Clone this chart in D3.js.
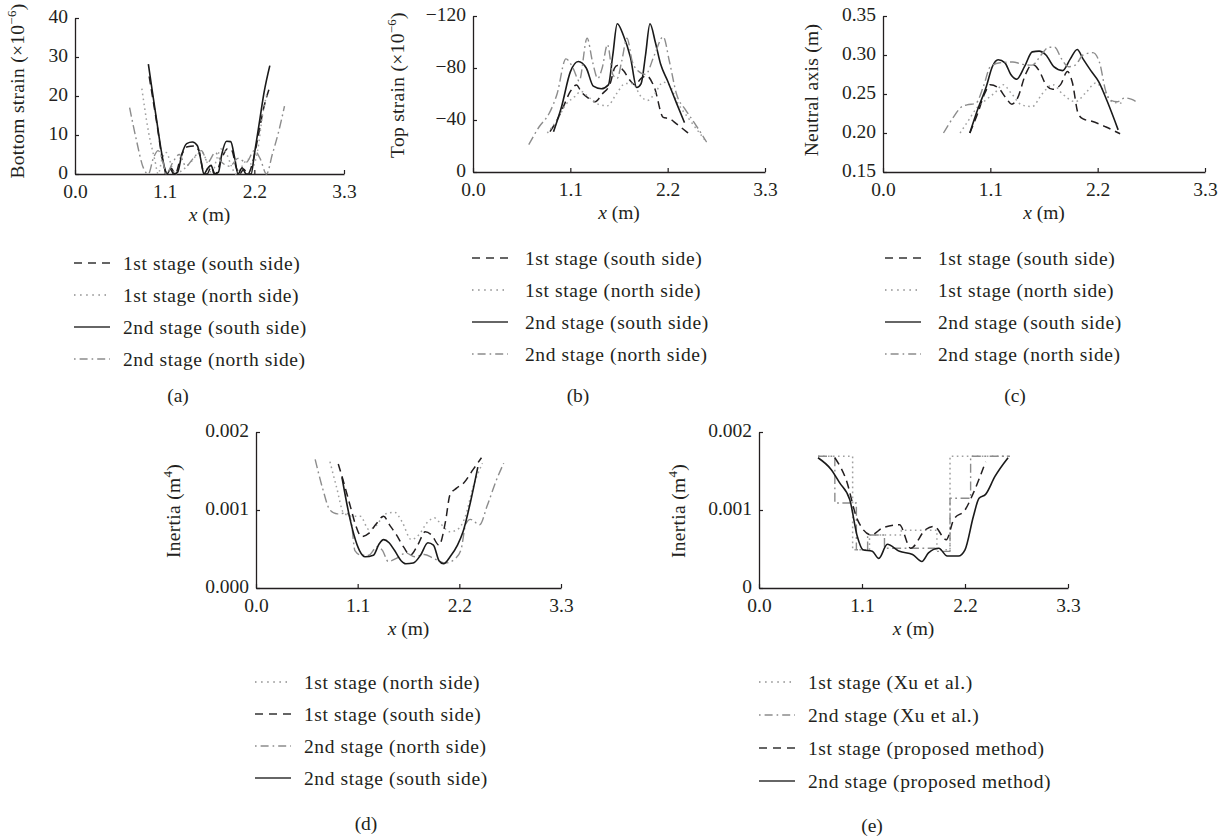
<!DOCTYPE html>
<html><head><meta charset="utf-8">
<script src="https://cdn.jsdelivr.net/npm/d3@7"></script>
<style>body{margin:0;background:#fff}</style>
</head><body>
<svg id="chart" width="1230" height="837"></svg>
<script>
// ---------------- DATA ----------------
const xTicks = [0, 1.1, 2.2, 3.3];

// (a) Bottom strain (x1e-6)
const aTicksY = [0, 10, 20, 30, 40];
const aSouth1 = [[0.91,25],[1.0,13.5],[1.08,3],[1.13,0],[1.18,1.5],[1.23,0],[1.3,4.5],[1.38,7],[1.46,7.2],[1.52,6],[1.57,1],[1.62,0],[1.67,1.8],[1.72,0],[1.8,4],[1.87,6.5],[1.92,6.2],[1.98,1.5],[2.02,0],[2.07,1.2],[2.12,0],[2.18,3],[2.25,10],[2.31,16.5],[2.38,21.7]];
const aNorth1 = [[0.82,21.9],[0.9,11],[0.98,3.5],[1.02,0],[1.07,4],[1.12,5.5],[1.17,3],[1.22,0],[1.32,1],[1.42,3],[1.5,5],[1.56,5.5],[1.62,3],[1.68,0],[1.74,4],[1.79,6.4],[1.85,5.5],[1.92,2],[1.97,0],[2.05,2],[2.12,3.8],[2.18,2],[2.24,6],[2.3,15],[2.36,21]];
const aSouth2 = [[0.90,28.2],[0.95,21],[1.0,14],[1.05,7],[1.1,1.5],[1.13,0],[1.17,1.3],[1.21,0],[1.26,0.5],[1.31,5],[1.37,7.8],[1.44,8.2],[1.5,7.3],[1.55,3],[1.58,0],[1.63,1.5],[1.67,2.2],[1.71,0],[1.76,0.5],[1.8,5],[1.86,8.4],[1.91,8.3],[1.96,4],[2.0,0],[2.05,1.6],[2.1,0],[2.16,0],[2.2,5],[2.26,13],[2.32,21],[2.39,27.8]];
const aNorth2 = [[0.67,17],[0.75,9],[0.84,1.5],[0.9,0],[0.96,4],[1.02,6],[1.08,3],[1.12,0],[1.2,3],[1.28,5],[1.36,2],[1.45,4],[1.55,6],[1.63,3],[1.72,5.5],[1.8,3],[1.9,2],[2.0,4],[2.1,3],[2.2,6],[2.27,4],[2.35,0],[2.42,5],[2.5,11],[2.57,17.4]];

// (b) Top strain (x1e-6)
const bTicksY = [0, -40, -80, -120];
const bSouth1 = [[0.87,-31],[0.95,-40],[1.02,-50],[1.1,-62],[1.17,-67],[1.22,-62],[1.3,-57],[1.38,-54],[1.46,-60],[1.55,-68],[1.6,-80],[1.63,-82],[1.7,-78],[1.78,-70],[1.83,-67],[1.9,-72],[1.96,-74],[2.05,-65],[2.15,-42],[2.22,-41],[2.3,-37],[2.43,-30]];
const bNorth1 = [[0.84,-30],[0.95,-40],[1.05,-52],[1.15,-58],[1.22,-62],[1.3,-58],[1.42,-52],[1.52,-51],[1.62,-60],[1.72,-68],[1.8,-68],[1.9,-58],[1.97,-55],[2.05,-60],[2.15,-69],[2.22,-67],[2.3,-55],[2.45,-40],[2.64,-23]];
const bSouth2 = [[0.91,-31],[1.0,-50],[1.1,-77],[1.19,-85],[1.28,-80],[1.36,-66],[1.45,-64],[1.53,-67],[1.58,-90],[1.63,-114],[1.7,-105],[1.78,-88],[1.85,-65],[1.9,-68],[1.95,-90],[2.0,-114],[2.06,-100],[2.12,-83],[2.2,-70],[2.3,-53],[2.39,-38]];
const bNorth2 = [[0.63,-21],[0.75,-35],[0.86,-45],[0.95,-60],[1.05,-87],[1.13,-80],[1.2,-70],[1.29,-103],[1.35,-85],[1.41,-72],[1.46,-80],[1.52,-98],[1.58,-75],[1.63,-72],[1.68,-85],[1.74,-103],[1.8,-85],[1.86,-78],[1.95,-75],[2.05,-90],[2.15,-104],[2.22,-85],[2.3,-60],[2.4,-48],[2.5,-38],[2.64,-23]];

// (c) Neutral axis (m)
const cTicksY = [0.15, 0.20, 0.25, 0.30, 0.35];
const cSouth1 = [[0.89,0.200],[0.97,0.225],[1.04,0.25],[1.1,0.262],[1.18,0.258],[1.26,0.245],[1.32,0.237],[1.38,0.245],[1.46,0.275],[1.53,0.288],[1.6,0.28],[1.67,0.262],[1.74,0.256],[1.82,0.262],[1.89,0.279],[1.94,0.265],[2.0,0.225],[2.05,0.218],[2.14,0.215],[2.28,0.208],[2.43,0.199]];
const cNorth1 = [[0.79,0.200],[0.87,0.215],[0.96,0.232],[1.06,0.243],[1.15,0.252],[1.23,0.262],[1.32,0.25],[1.42,0.236],[1.53,0.234],[1.63,0.25],[1.74,0.262],[1.84,0.25],[1.97,0.24],[2.08,0.252],[2.18,0.264],[2.26,0.255],[2.35,0.24],[2.47,0.238]];
const cSouth2 = [[0.89,0.200],[0.97,0.23],[1.06,0.26],[1.12,0.285],[1.18,0.294],[1.25,0.29],[1.31,0.275],[1.37,0.269],[1.45,0.285],[1.53,0.304],[1.6,0.305],[1.67,0.30],[1.75,0.285],[1.84,0.28],[1.92,0.295],[1.99,0.307],[2.05,0.295],[2.13,0.28],[2.21,0.266],[2.3,0.24],[2.41,0.204]];
const cNorth2 = [[0.62,0.200],[0.72,0.22],[0.8,0.233],[0.86,0.236],[0.95,0.238],[1.03,0.26],[1.1,0.285],[1.2,0.29],[1.33,0.291],[1.43,0.288],[1.53,0.287],[1.62,0.3],[1.7,0.31],[1.76,0.31],[1.83,0.295],[1.9,0.285],[1.97,0.287],[2.05,0.3],[2.15,0.303],[2.22,0.29],[2.28,0.255],[2.33,0.242],[2.4,0.24],[2.48,0.245],[2.55,0.243],[2.62,0.238]];

// (d) Inertia (m^4)
const dTicksY = [0, 0.001, 0.002];
const dNorth1 = [[0.8,0.00162],[0.87,0.0013],[0.95,0.00096],[1.05,0.00092],[1.13,0.00092],[1.22,0.00075],[1.3,0.0008],[1.4,0.00095],[1.5,0.00097],[1.58,0.00085],[1.68,0.00062],[1.76,0.00068],[1.86,0.00085],[1.93,0.0009],[2.0,0.00082],[2.1,0.00072],[2.18,0.00075],[2.26,0.0009],[2.35,0.0013],[2.45,0.0016]];
const dSouth1 = [[0.89,0.00159],[0.95,0.00135],[1.02,0.00105],[1.08,0.0008],[1.14,0.00066],[1.22,0.0007],[1.3,0.00082],[1.38,0.00092],[1.45,0.0008],[1.52,0.00068],[1.6,0.00052],[1.67,0.00042],[1.75,0.00055],[1.83,0.00072],[1.9,0.00068],[1.98,0.00055],[2.05,0.00085],[2.1,0.0012],[2.17,0.00128],[2.25,0.00135],[2.35,0.00152],[2.44,0.00167]];
const dNorth2 = [[0.64,0.00165],[0.72,0.00128],[0.8,0.001],[0.88,0.00095],[0.98,0.00096],[1.03,0.00085],[1.07,0.00048],[1.14,0.00042],[1.22,0.00042],[1.31,0.00053],[1.37,0.00048],[1.43,0.00034],[1.52,0.00038],[1.62,0.00045],[1.72,0.0004],[1.82,0.00043],[1.92,0.00038],[2.05,0.00032],[2.16,0.00038],[2.22,0.0005],[2.27,0.00082],[2.32,0.00088],[2.42,0.00081],[2.5,0.00105],[2.6,0.00138],[2.68,0.0016]];
const dSouth2 = [[0.93,0.00142],[1.0,0.00098],[1.06,0.00068],[1.12,0.00048],[1.18,0.00040],[1.27,0.00042],[1.33,0.00056],[1.38,0.00062],[1.44,0.00058],[1.5,0.00048],[1.57,0.00035],[1.62,0.00031],[1.7,0.00032],[1.78,0.00042],[1.86,0.00058],[1.92,0.00055],[1.98,0.00035],[2.03,0.00031],[2.1,0.0004],[2.18,0.00055],[2.24,0.00072],[2.32,0.0011],[2.4,0.00155]];

// (e) Inertia (m^4), Xu et al. step profiles vs proposed method
const eTicksY = [0, 0.001, 0.002];
const eXu1 = [[0.63,0.00169],[1.0,0.00049],[1.18,0.00068],[1.52,0.00074],[1.9,0.00049],[2.04,0.00169],[2.68,0.00169]];
const eXu2 = [[0.63,0.00169],[0.81,0.00109],[1.04,0.00049],[1.16,0.00068],[1.34,0.00051],[1.88,0.00047],[2.04,0.00115],[2.26,0.00169],[2.68,0.00169]];
const eProp1 = [[0.81,0.00167],[0.93,0.00139],[1.05,0.00088],[1.2,0.00068],[1.32,0.00077],[1.5,0.00081],[1.62,0.00051],[1.78,0.00075],[1.87,0.00079],[2.0,0.00062],[2.08,0.00088],[2.2,0.001],[2.29,0.00122],[2.42,0.00162]];
const eProp2 = [[0.63,0.00167],[0.77,0.00152],[0.86,0.00135],[0.97,0.00113],[1.05,0.00066],[1.11,0.00049],[1.21,0.00047],[1.28,0.00038],[1.37,0.00056],[1.5,0.00047],[1.64,0.00043],[1.74,0.00034],[1.81,0.00045],[1.92,0.00051],[2.01,0.00041],[2.13,0.00041],[2.2,0.00049],[2.29,0.00092],[2.35,0.00115],[2.42,0.0012],[2.52,0.00143],[2.66,0.00167]];

// ---------------- DRAWING ----------------
const FONT = "'Liberation Serif','Times New Roman',serif";
const INK = "#231f20";
const FS = "19.5px";
const svg = d3.select("#chart").style("font-family", FONT);

const STY = {
  dashed:  {stroke:"#231f20", dash:"8,5", w:1.5},
  dotted:  {stroke:"#a0a0a0", dash:"1.6,3.4", w:1.5},
  solid:   {stroke:"#1a1a1a", dash:null, w:1.6},
  dashdot: {stroke:"#8c8c8c", dash:"9,3.5,1.8,3.5", w:1.4}
};
const LEG = {
  dashed:  "8,6",
  dotted:  "1.5,4.6",
  solid:   null,
  dashdot: "1.6,4,8,4"
};

const panels = [
  {key:"a", x0:75, x1:344, yb:174, yt:18, dom:[0,40], ticks:aTicksY, fmt:d=>String(d),
   title:["Bottom strain (×10","−6",")"], tx:24, ty:91,
   series:[[aSouth1,"dashed"],[aNorth1,"dotted"],[aSouth2,"solid"],[aNorth2,"dashdot"]],
   leg:{x:74, tx:123, y:263, dy:32, names:["1st stage (south side)","1st stage (north side)","2nd stage (south side)","2nd stage (north side)"]},
   lab:[178,395]},
  {key:"b", x0:473, x1:765, yb:172, yt:16, dom:[0,-120], ticks:bTicksY, fmt:d=>d===0?"0":"−"+Math.abs(d),
   title:["Top strain (×10","−6",")"], tx:404, ty:85,
   series:[[bSouth1,"dashed"],[bNorth1,"dotted"],[bSouth2,"solid"],[bNorth2,"dashdot"]],
   leg:{x:472, tx:525, y:258, dy:32, names:["1st stage (south side)","1st stage (north side)","2nd stage (south side)","2nd stage (north side)"]},
   lab:[578,395]},
  {key:"c", x0:883, x1:1205, yb:172, yt:16, dom:[0.15,0.35], ticks:cTicksY, fmt:d3.format(".2f"),
   title:["Neutral axis (m)"], tx:818, ty:90,
   series:[[cSouth1,"dashed"],[cNorth1,"dotted"],[cSouth2,"solid"],[cNorth2,"dashdot"]],
   leg:{x:885, tx:938, y:258, dy:32, names:["1st stage (south side)","1st stage (north side)","2nd stage (south side)","2nd stage (north side)"]},
   lab:[1015,395]},
  {key:"d", x0:256, x1:561, yb:588, yt:432, dom:[0,0.002], ticks:dTicksY, fmt:d3.format(".3f"),
   title:["Inertia (m","4",")"], tx:180, ty:511,
   series:[[dNorth1,"dotted"],[dSouth1,"dashed"],[dNorth2,"dashdot"],[dSouth2,"solid"]],
   leg:{x:255, tx:304, y:682, dy:32, names:["1st stage (north side)","1st stage (south side)","2nd stage (north side)","2nd stage (south side)"]},
   lab:[366,823]},
  {key:"e", x0:759, x1:1068, yb:588, yt:432, dom:[0,0.002], ticks:eTicksY, fmt:d=>d===0?"0":d3.format(".3f")(d),
   title:["Inertia (m","4",")"], tx:685, ty:511,
   series:[[eXu1,"dotted",true],[eXu2,"dashdot",true],[eProp1,"dashed"],[eProp2,"solid"]],
   leg:{x:759, tx:808, y:682, dy:33, names:["1st stage (Xu et al.)","2nd stage (Xu et al.)","1st stage (proposed method)","2nd stage (proposed method)"]},
   lab:[872,825]}
];

panels.forEach(p => {
  const g = svg.append("g");
  const x = d3.scaleLinear().domain([0,3.3]).range([p.x0,p.x1]);
  const y = d3.scaleLinear().domain(p.dom).range([p.yb,p.yt]);

  const ax = g.append("g").attr("transform",`translate(0,${p.yb})`)
    .call(d3.axisBottom(x).tickValues(xTicks).tickFormat(d3.format(".1f")).tickSizeInner(-4).tickSizeOuter(0).tickPadding(10));
  const ay = g.append("g").attr("transform",`translate(${p.x0},0)`)
    .call(d3.axisLeft(y).tickValues(p.ticks).tickFormat(p.fmt).tickSizeInner(-4).tickSizeOuter(0).tickPadding(7));
  [ax,ay].forEach(a => {
    a.select(".domain").attr("stroke",INK).attr("stroke-width",1.3);
    a.selectAll(".tick line").attr("stroke",INK).attr("stroke-width",1.2);
    a.selectAll(".tick text").attr("fill",INK).style("font-size",FS).style("font-family",FONT);
  });
  ay.selectAll(".tick text").attr("dy","0.25em");

  p.series.forEach(([data, st, step]) => {
    const s = STY[st];
    const line = d3.line().x(d=>x(d[0])).y(d=>y(d[1]))
      .curve(step ? d3.curveStepAfter : d3.curveMonotoneX);
    g.append("path").datum(data).attr("d",line)
      .attr("fill","none").attr("stroke",s.stroke).attr("stroke-width",s.w)
      .attr("stroke-dasharray",s.dash).attr("stroke-linejoin","round");
  });

  const xt = g.append("text").attr("x",(p.x0+p.x1)/2).attr("y",p.yb+47)
    .attr("text-anchor","middle").attr("fill",INK).style("font-size",FS);
  xt.append("tspan").style("font-style","italic").text("x");
  xt.append("tspan").text(" (m)");

  const yt = g.append("text").attr("transform",`translate(${p.tx},${p.ty}) rotate(-90)`)
    .attr("text-anchor","middle").attr("fill",INK).style("font-size",FS).style("letter-spacing","0.3px");
  yt.append("tspan").text(p.title[0]);
  if (p.title.length > 1) {
    yt.append("tspan").attr("dy",-8).style("font-size","13px").text(p.title[1]);
    yt.append("tspan").attr("dy",8).text(p.title[2]);
  }

  const lg = g.append("g");
  const order = p.series.map(s=>s[1]);
  p.leg.names.forEach((nm,i) => {
    const yy = p.leg.y + i*p.leg.dy;
    const st = order[i];
    lg.append("line").attr("x1",p.leg.x).attr("x2",p.leg.x+36).attr("y1",yy).attr("y2",yy)
      .attr("stroke", st==="dotted"||st==="dashdot" ? "#8c8c8c" : "#333")
      .attr("stroke-width",1.5).attr("stroke-dasharray",LEG[st]);
    lg.append("text").attr("x",p.leg.tx).attr("y",yy).attr("dy","0.35em")
      .attr("fill",INK).style("font-size",FS).style("letter-spacing","0.6px").text(nm);
  });

  g.append("text").attr("x",p.lab[0]).attr("y",p.lab[1]).attr("dy","0.35em")
    .attr("text-anchor","middle").attr("fill",INK).style("font-size",FS).text(`(${p.key})`);
});
</script>
</body></html>
